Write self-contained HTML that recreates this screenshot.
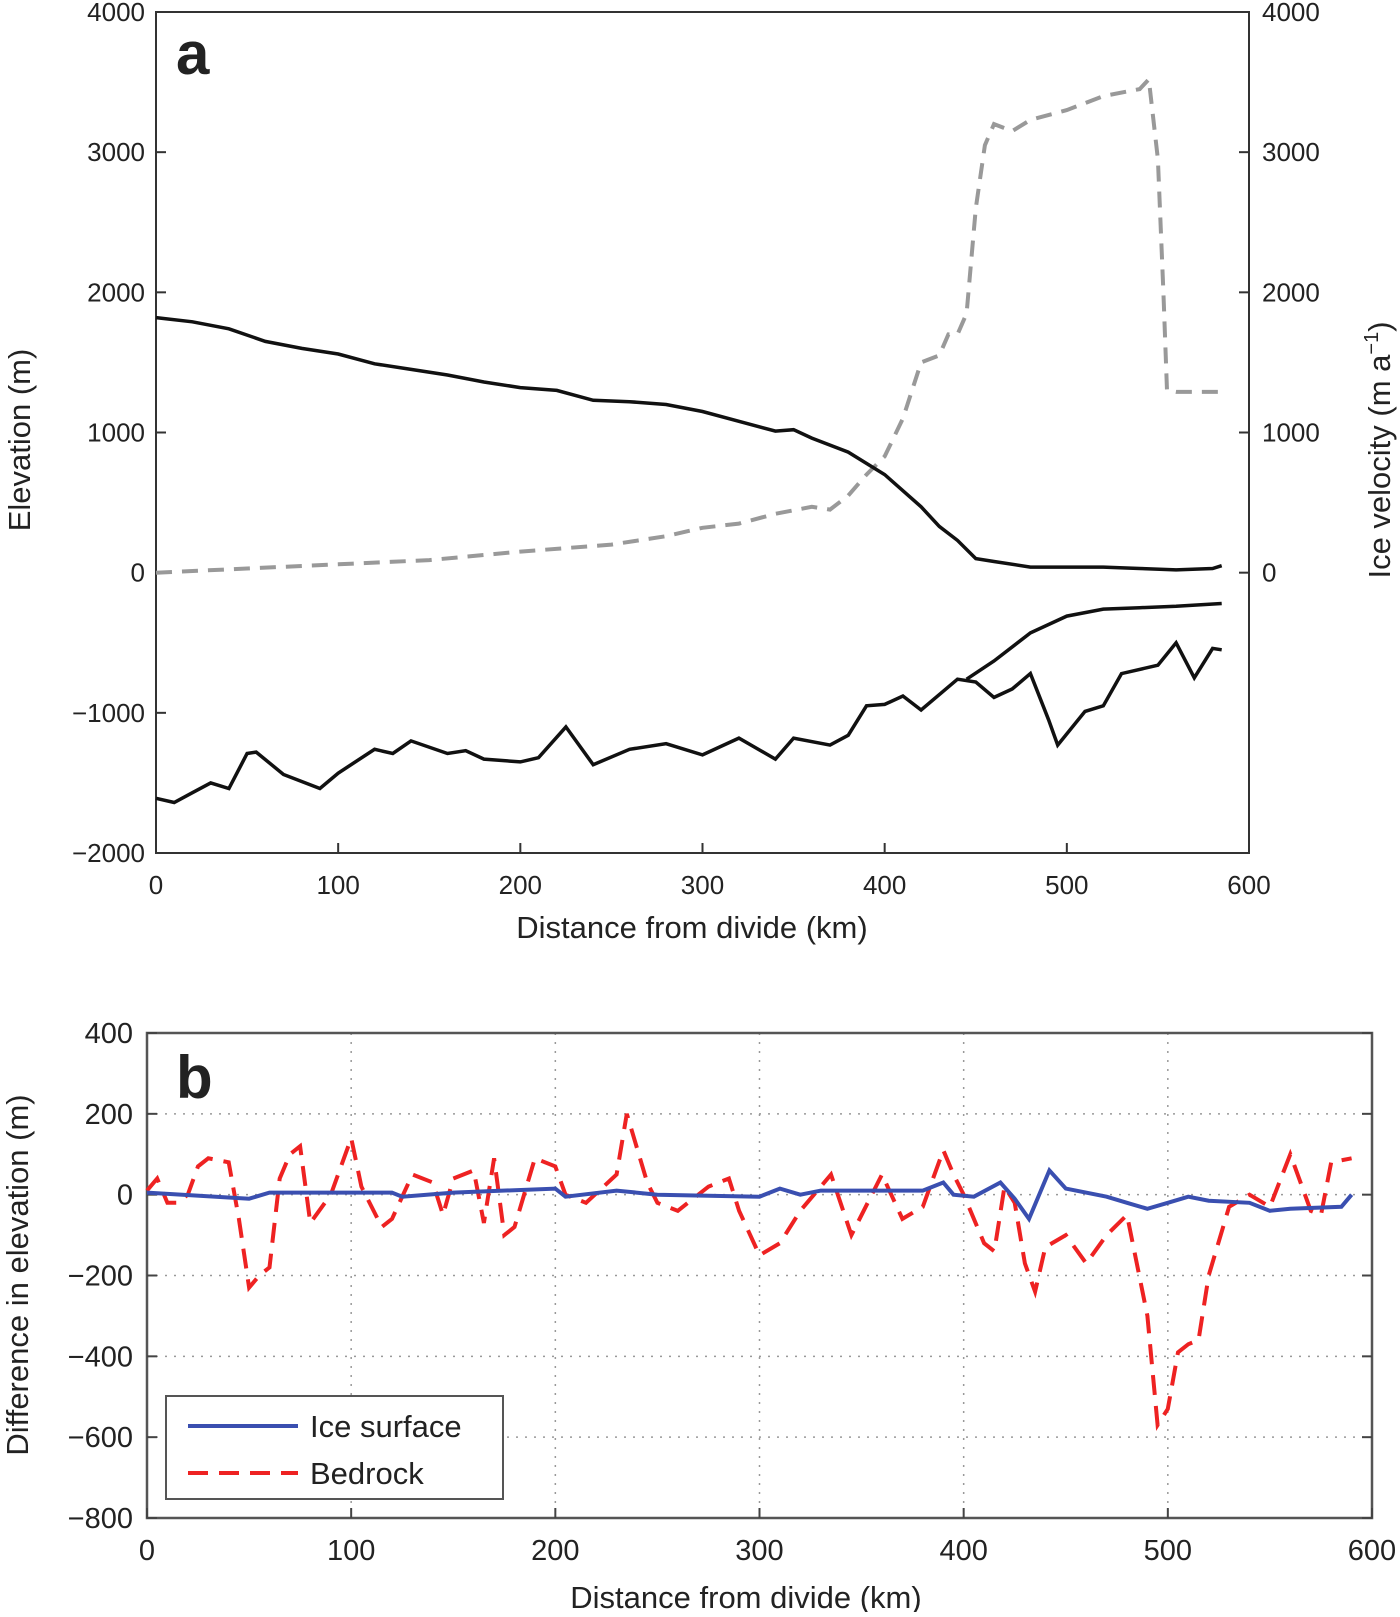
<!DOCTYPE html>
<html><head><meta charset="utf-8"><style>
body{margin:0;background:#fff;}
svg text{font-family:"Liberation Sans",sans-serif;fill:#222;}
</style></head><body>
<svg id="s" width="1400" height="1612" xmlns="http://www.w3.org/2000/svg"></svg>
<script>
// Panel a data
const aSurfX=[0,20,40,60,80,100,120,140,160,180,200,220,240,260,280,300,320,340,350,360,380,400,420,430,440,450,460,480,500,520,540,560,580,585];
const aSurfY=[1820,1790,1740,1650,1600,1560,1490,1450,1410,1360,1320,1300,1230,1220,1200,1150,1080,1010,1020,960,860,700,470,330,230,100,80,40,40,40,30,20,30,50];
const aBedX=[0,10,20,30,40,50,55,70,90,100,120,130,140,160,170,180,200,210,225,240,260,280,300,320,340,350,370,380,390,400,410,420,440,450,460,470,480,490,495,510,520,530,550,560,570,580,585];
const aBedY=[-1610,-1640,-1570,-1500,-1540,-1290,-1280,-1440,-1540,-1430,-1260,-1290,-1200,-1290,-1270,-1330,-1350,-1320,-1100,-1370,-1260,-1220,-1300,-1180,-1330,-1180,-1230,-1160,-950,-940,-880,-980,-760,-780,-890,-830,-720,-1050,-1230,-990,-950,-720,-660,-500,-750,-540,-550];
const aShelfX=[445,460,480,500,520,540,560,585];
const aShelfY=[-760,-630,-430,-310,-260,-250,-240,-220];
const aVelX=[0,50,100,150,200,250,280,300,320,340,360,370,380,390,400,410,420,430,435,440,445,450,455,460,470,480,500,520,540,545,550,553,555,560,585];
const aVelY=[0,30,60,90,150,200,260,320,350,420,470,450,550,700,830,1100,1500,1550,1700,1700,1850,2600,3050,3200,3150,3230,3300,3400,3450,3520,2950,2000,1300,1290,1290];
const aXTicks=[0,100,200,300,400,500,600];
const aYTicks=[-2000,-1000,0,1000,2000,3000,4000];
const aRTicks=[0,1000,2000,3000,4000];
// Panel b data
const bIceX=[0,50,60,100,120,125,150,200,205,230,250,300,310,320,330,380,390,395,405,418,425,432,442,450,470,480,490,500,510,520,540,550,560,585,590];
const bIceY=[5,-10,5,5,5,-5,5,15,-5,10,0,-5,15,0,10,10,30,0,-5,30,-10,-60,60,15,-5,-20,-35,-20,-5,-15,-20,-40,-35,-30,0];
const bBedX=[0,5,10,15,20,25,30,40,45,50,55,60,65,70,75,80,90,100,105,115,120,130,140,145,150,160,165,170,175,180,190,200,205,215,230,235,245,250,260,275,285,290,300,310,320,335,345,355,360,370,380,390,395,400,410,415,420,425,430,435,440,450,460,470,480,490,495,500,505,510,515,520,530,540,550,560,570,575,580,590];
const bBedY=[10,40,-20,-20,0,70,90,80,-60,-230,-200,-180,40,100,120,-70,0,140,20,-80,-60,50,30,-50,40,60,-70,90,-100,-80,90,70,0,-20,50,200,30,-20,-40,20,40,-40,-150,-120,-40,50,-100,0,50,-60,-30,110,50,0,-120,-140,20,-20,-170,-240,-130,-100,-170,-100,-50,-300,-570,-530,-390,-370,-360,-200,-30,0,-30,100,-40,-50,80,90];
const bXTicks=[0,100,200,300,400,500,600];
const bYTicks=[-800,-600,-400,-200,0,200,400];

const s=document.getElementById('s');const NS='http://www.w3.org/2000/svg';
function mk(t,a,txt){const e=document.createElementNS(NS,t);for(const k in a)e.setAttribute(k,a[k]);if(txt!==undefined)e.textContent=txt;s.appendChild(e);return e;}
// axes a
const ax=v=>156+v*(1249-156)/600, ay=v=>853-(v+2000)*(853-12)/6000;
const bx=v=>147+v*(1372-147)/600, by=v=>1518-(v+800)*(1518-1033)/1200;
function path(xs,ys,fx,fy){return xs.map((x,i)=>(i?'L':'M')+fx(x).toFixed(1)+' '+fy(ys[i]).toFixed(1)).join(' ');}
let e;
e=mk('rect',{x:156,y:12,width:1093,height:841,fill:'none',stroke:'#333','stroke-width':2});

aXTicks.forEach(v=>{mk('line',{x1:ax(v),x2:ax(v),y1:853,y2:843,stroke:'#333','stroke-width':2});
 e=mk('text',{x:ax(v),y:894,'font-size':26,'text-anchor':'middle'},v);});
aYTicks.forEach(v=>{mk('line',{x1:156,x2:166,y1:ay(v),y2:ay(v),stroke:'#333','stroke-width':2});
 e=mk('text',{x:145,y:ay(v)+9,'font-size':26,'text-anchor':'end'},v<0?'\u2212'+(-v):v);});
aRTicks.forEach(v=>{mk('line',{x1:1239,x2:1249,y1:ay(v),y2:ay(v),stroke:'#333','stroke-width':2});
 e=mk('text',{x:1262,y:ay(v)+9,'font-size':26},v);});
e=mk('text',{x:692,y:938,'font-size':31,'text-anchor':'middle'},'Distance from divide (km)');
e=mk('text',{x:0,y:0,'font-size':31,'text-anchor':'middle',transform:'translate(30,440) rotate(-90)'},'Elevation (m)');
e=mk('text',{x:0,y:0,'font-size':31,'text-anchor':'middle',transform:'translate(1390,450) rotate(-90)'});
e.innerHTML='Ice velocity (m a<tspan dy="-12" font-size="20">\u22121</tspan><tspan dy="12">)</tspan>';
e=mk('text',{x:176,y:74,'font-size':60,'font-weight':'bold'},'a');
e=mk('path',{d:path(aVelX,aVelY,ax,ay),fill:'none',stroke:'#999','stroke-width':4,'stroke-dasharray':'16 10'});
e=mk('path',{d:path(aSurfX,aSurfY,ax,ay),fill:'none',stroke:'#111','stroke-width':3.5});
e=mk('path',{d:path(aBedX,aBedY,ax,ay),fill:'none',stroke:'#111','stroke-width':3.5});
e=mk('path',{d:path(aShelfX,aShelfY,ax,ay),fill:'none',stroke:'#111','stroke-width':3.5});
// panel b
bXTicks.slice(1,-1).forEach(v=>{e=mk('line',{x1:bx(v),x2:bx(v),y1:1033,y2:1518,stroke:'#999','stroke-width':1.5,'stroke-dasharray':'2 7'});});
bYTicks.slice(1,-1).forEach(v=>{e=mk('line',{x1:147,x2:1372,y1:by(v),y2:by(v),stroke:'#999','stroke-width':1.5,'stroke-dasharray':'2 7'});});
e=mk('rect',{x:147,y:1033,width:1225,height:485,fill:'none',stroke:'#555','stroke-width':2.5});
bXTicks.forEach(v=>{mk('line',{x1:bx(v),x2:bx(v),y1:1518,y2:1508,stroke:'#444','stroke-width':2});
 e=mk('text',{x:bx(v),y:1560,'font-size':29,'text-anchor':'middle'},v);});
bYTicks.forEach(v=>{mk('line',{x1:147,x2:157,y1:by(v),y2:by(v),stroke:'#444','stroke-width':2});mk('line',{x1:1362,x2:1372,y1:by(v),y2:by(v),stroke:'#444','stroke-width':2});
 e=mk('text',{x:133,y:by(v)+10,'font-size':29,'text-anchor':'end'},v<0?'\u2212'+(-v):v);});
e=mk('text',{x:746,y:1608,'font-size':31,'text-anchor':'middle'},'Distance from divide (km)');
e=mk('text',{x:0,y:0,'font-size':31,'text-anchor':'middle',transform:'translate(28,1275) rotate(-90)'},'Difference in elevation (m)');
e=mk('text',{x:176,y:1098,'font-size':60,'font-weight':'bold'},'b');
e=mk('path',{d:path(bBedX,bBedY,bx,by),fill:'none',stroke:'#ee2222','stroke-width':4,'stroke-dasharray':'20 11'});
e=mk('path',{d:path(bIceX,bIceY,bx,by),fill:'none',stroke:'#3a4fb0','stroke-width':4});
// legend
e=mk('rect',{x:166,y:1396,width:337,height:103,fill:'#fff',stroke:'#555','stroke-width':2});
mk('line',{x1:188,x2:298,y1:1426,y2:1426,stroke:'#3a4fb0','stroke-width':4});
e=mk('text',{x:310,y:1437,'font-size':31},'Ice surface');
mk('line',{x1:188,x2:298,y1:1473,y2:1473,stroke:'#ee2222','stroke-width':4,'stroke-dasharray':'20 11'});
e=mk('text',{x:310,y:1484,'font-size':31},'Bedrock');
</script>
</body></html>
